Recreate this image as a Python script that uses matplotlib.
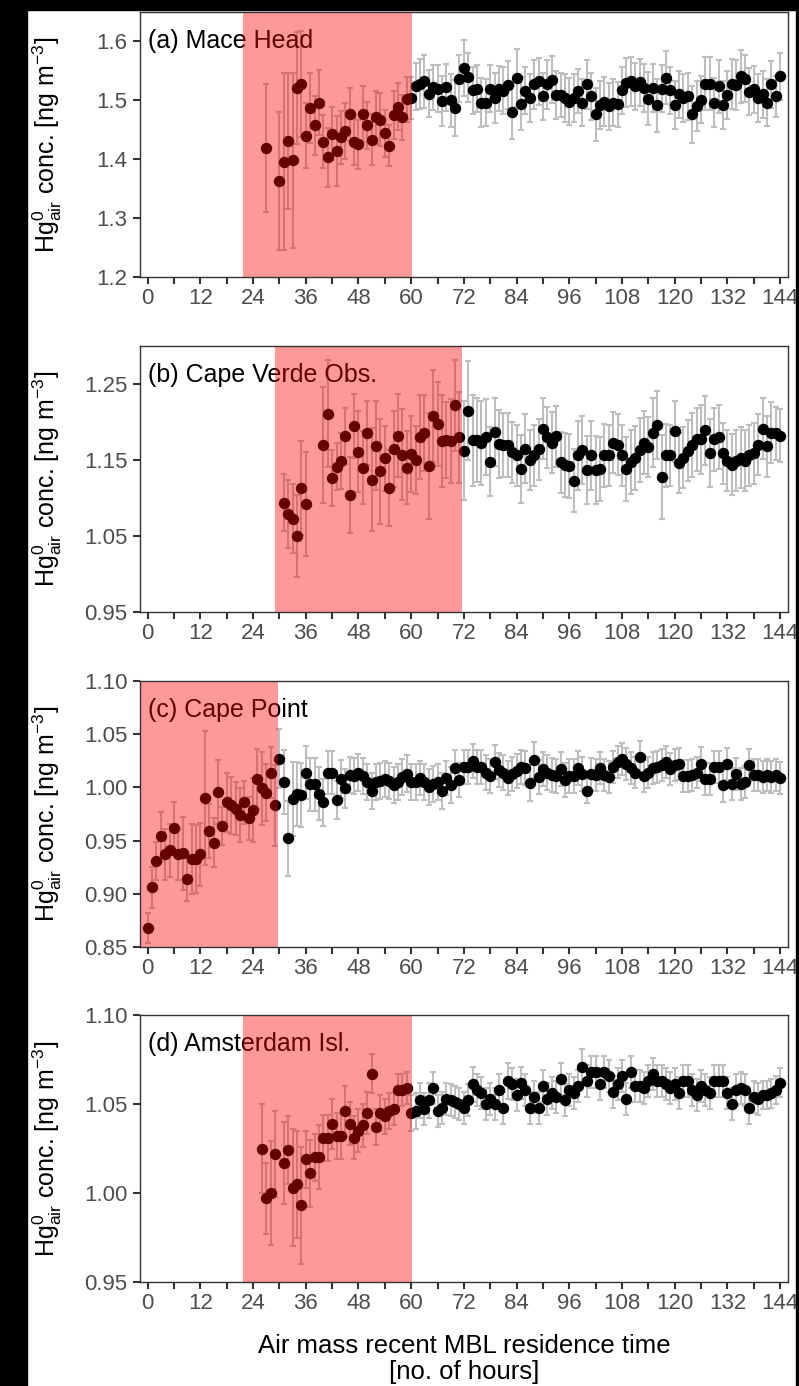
import numpy as np
import matplotlib
matplotlib.use("Agg")
from matplotlib import pyplot as plt
from matplotlib.patches import Rectangle

plt.rcParams['font.family'] = ['Liberation Sans', 'DejaVu Sans']
plt.rcParams['mathtext.fontset'] = 'custom'
plt.rcParams['mathtext.rm'] = 'Liberation Sans'
plt.rcParams['mathtext.it'] = 'Liberation Sans:italic'

# residence time bins [h] for each station
hours_a = [27] + list(range(30, 145))
hours_b = list(range(31, 37)) + list(range(40, 145))
hours_c = list(range(0, 145))
hours_d = list(range(26, 30)) + list(range(31, 145))

# (a) Mace Head, mean Hg0 [ng m-3]
conc_a = [1.419,
          1.363, 1.396, 1.431, 1.398, 1.521, 1.527, 1.440, 1.487, 1.458, 1.496,
          1.430, 1.403, 1.443, 1.414, 1.437, 1.448, 1.476, 1.430, 1.425, 1.477,
          1.458, 1.433, 1.471, 1.467, 1.444, 1.423, 1.475, 1.489, 1.471, 1.502,
          1.504, 1.524, 1.528, 1.532, 1.511, 1.522, 1.520, 1.499, 1.522, 1.500,
          1.487, 1.537, 1.555, 1.539, 1.517, 1.520, 1.496, 1.496, 1.520, 1.504,
          1.520, 1.516, 1.526, 1.480, 1.538, 1.494, 1.516, 1.504, 1.527, 1.532,
          1.507, 1.527, 1.535, 1.509, 1.509, 1.504, 1.498, 1.504, 1.516, 1.496,
          1.527, 1.507, 1.476, 1.492, 1.498, 1.490, 1.496, 1.493, 1.517, 1.530,
          1.532, 1.524, 1.531, 1.521, 1.503, 1.521, 1.492, 1.520, 1.538, 1.517,
          1.492, 1.510, 1.504, 1.507, 1.476, 1.490, 1.501, 1.528, 1.528, 1.496,
          1.524, 1.492, 1.509, 1.528, 1.526, 1.541, 1.537, 1.515, 1.519, 1.504,
          1.510, 1.496, 1.527, 1.507, 1.541]
err_a = [0.108,
         0.118, 0.150, 0.115, 0.148, 0.095, 0.090, 0.055, 0.060, 0.050, 0.055,
         0.045, 0.050, 0.045, 0.060, 0.045, 0.048, 0.045, 0.040, 0.042, 0.047,
         0.040, 0.043, 0.045, 0.045, 0.040, 0.035, 0.040, 0.040, 0.038, 0.038,
         0.035, 0.040, 0.042, 0.045, 0.040, 0.038, 0.040, 0.042, 0.040, 0.045,
         0.048, 0.040, 0.048, 0.042, 0.040, 0.040, 0.042, 0.040, 0.040, 0.042,
         0.038, 0.040, 0.040, 0.045, 0.050, 0.045, 0.040, 0.040, 0.042, 0.040,
         0.040, 0.042, 0.040, 0.040, 0.038, 0.040, 0.040, 0.040, 0.038, 0.040,
         0.042, 0.040, 0.045, 0.040, 0.042, 0.040, 0.040, 0.038, 0.040, 0.042,
         0.042, 0.040, 0.040, 0.040, 0.045, 0.040, 0.045, 0.040, 0.045, 0.040,
         0.040, 0.040, 0.040, 0.040, 0.048, 0.042, 0.040, 0.045, 0.045, 0.042,
         0.045, 0.040, 0.040, 0.042, 0.042, 0.045, 0.040, 0.040, 0.040, 0.040,
         0.040, 0.040, 0.040, 0.035, 0.040]

# (b) Cape Verde Obs.
conc_b = [1.094, 1.079, 1.073, 1.050, 1.113, 1.092,
          1.170, 1.211, 1.126, 1.141, 1.149, 1.182, 1.104, 1.195, 1.161, 1.140,
          1.185, 1.124, 1.169, 1.135, 1.152, 1.113, 1.165, 1.182, 1.157, 1.140,
          1.158, 1.150, 1.180, 1.185, 1.142, 1.208, 1.197, 1.175, 1.176, 1.175,
          1.222, 1.180, 1.162, 1.215, 1.176, 1.176, 1.172, 1.180, 1.148, 1.187,
          1.171, 1.170, 1.170, 1.160, 1.156, 1.138, 1.165, 1.150, 1.156, 1.164,
          1.191, 1.180, 1.173, 1.181, 1.147, 1.143, 1.142, 1.123, 1.156, 1.163,
          1.137, 1.156, 1.137, 1.138, 1.156, 1.156, 1.173, 1.170, 1.156, 1.138,
          1.147, 1.153, 1.163, 1.173, 1.167, 1.186, 1.196, 1.128, 1.156, 1.156,
          1.188, 1.146, 1.153, 1.162, 1.170, 1.177, 1.177, 1.189, 1.159, 1.177,
          1.180, 1.159, 1.149, 1.144, 1.149, 1.153, 1.149, 1.156, 1.159, 1.170,
          1.191, 1.168, 1.186, 1.185, 1.182]
err_b = [0.038, 0.045, 0.045, 0.054, 0.062, 0.068,
         0.076, 0.070, 0.037, 0.031, 0.037, 0.037, 0.050, 0.042, 0.053, 0.048,
         0.042, 0.068, 0.058, 0.069, 0.043, 0.050, 0.050, 0.055, 0.060, 0.048,
         0.050, 0.045, 0.055, 0.050, 0.070, 0.060, 0.055, 0.060, 0.050, 0.055,
         0.060, 0.060, 0.065, 0.065, 0.060, 0.055, 0.055, 0.050, 0.045, 0.045,
         0.045, 0.042, 0.042, 0.040, 0.040, 0.045, 0.045, 0.040, 0.040, 0.040,
         0.040, 0.040, 0.040, 0.040, 0.040, 0.042, 0.042, 0.042, 0.045, 0.045,
         0.045, 0.045, 0.045, 0.042, 0.042, 0.040, 0.040, 0.040, 0.040, 0.042,
         0.042, 0.042, 0.042, 0.042, 0.040, 0.045, 0.045, 0.055, 0.042, 0.040,
         0.040, 0.040, 0.040, 0.040, 0.042, 0.042, 0.045, 0.045, 0.045, 0.042,
         0.042, 0.040, 0.040, 0.040, 0.040, 0.040, 0.040, 0.040, 0.040, 0.040,
         0.040, 0.040, 0.040, 0.035, 0.035]

# (c) Cape Point
conc_c = [0.868, 0.906, 0.931, 0.954, 0.937, 0.941, 0.962, 0.937, 0.938, 0.914,
          0.933, 0.933, 0.937, 0.990, 0.959, 0.948, 0.996, 0.964, 0.986, 0.983,
          0.980, 0.974, 0.986, 0.971, 0.979, 1.008, 0.999, 0.995, 1.014, 0.983,
          1.027, 1.005, 0.952, 0.989, 0.994, 0.993, 1.014, 1.003, 1.003, 0.994,
          0.986, 1.014, 1.014, 0.988, 1.008, 0.999, 1.012, 1.011, 1.014, 1.011,
          1.005, 0.997, 1.005, 1.006, 1.008, 1.006, 1.002, 1.005, 1.010, 1.013,
          1.005, 1.005, 1.009, 1.005, 1.000, 1.003, 1.005, 0.997, 1.009, 1.002,
          1.018, 1.007, 1.019, 1.019, 1.025, 1.019, 1.019, 1.014, 1.011, 1.024,
          1.016, 1.014, 1.009, 1.013, 1.015, 1.019, 1.018, 1.004, 1.026, 1.010,
          1.017, 1.014, 1.012, 1.011, 1.017, 1.007, 1.011, 1.011, 1.018, 1.013,
          0.997, 1.013, 1.012, 1.018, 1.012, 1.010, 1.019, 1.024, 1.027, 1.022,
          1.018, 1.014, 1.029, 1.011, 1.014, 1.018, 1.019, 1.021, 1.024, 1.017,
          1.021, 1.022, 1.011, 1.011, 1.012, 1.014, 1.022, 1.008, 1.008, 1.019,
          1.019, 1.002, 1.022, 1.003, 1.013, 1.003, 1.005, 1.021, 1.012, 1.012,
          1.010, 1.012, 1.010, 1.012, 1.009]
err_c = [0.014, 0.019, 0.018, 0.023, 0.024, 0.025, 0.024, 0.024, 0.034, 0.021,
         0.033, 0.032, 0.030, 0.063, 0.025, 0.023, 0.030, 0.018, 0.028, 0.027,
         0.025, 0.025, 0.020, 0.020, 0.030, 0.028, 0.034, 0.027, 0.024, 0.038,
         0.028, 0.030, 0.035, 0.035, 0.030, 0.030, 0.025, 0.025, 0.025, 0.025,
         0.022, 0.020, 0.020, 0.018, 0.018, 0.018, 0.017, 0.017, 0.017, 0.017,
         0.017, 0.017, 0.017, 0.017, 0.017, 0.017, 0.017, 0.017, 0.017, 0.017,
         0.017, 0.017, 0.016, 0.017, 0.017, 0.017, 0.017, 0.017, 0.016, 0.017,
         0.017, 0.016, 0.016, 0.016, 0.016, 0.016, 0.016, 0.016, 0.016, 0.016,
         0.016, 0.016, 0.016, 0.016, 0.016, 0.016, 0.016, 0.017, 0.017, 0.016,
         0.016, 0.016, 0.016, 0.016, 0.016, 0.016, 0.016, 0.016, 0.016, 0.016,
         0.012, 0.015, 0.015, 0.015, 0.015, 0.015, 0.015, 0.015, 0.015, 0.015,
         0.015, 0.015, 0.015, 0.015, 0.015, 0.015, 0.015, 0.015, 0.015, 0.015,
         0.015, 0.015, 0.015, 0.015, 0.015, 0.015, 0.016, 0.015, 0.015, 0.015,
         0.015, 0.016, 0.015, 0.015, 0.015, 0.015, 0.015, 0.015, 0.015, 0.015,
         0.015, 0.015, 0.015, 0.015, 0.015]

# (d) Amsterdam Isl.
conc_d = [1.025, 0.997, 1.000, 1.022,
          1.017, 1.024, 1.003, 1.005, 0.993, 1.019, 1.011, 1.020, 1.020,
          1.031, 1.031, 1.039, 1.032, 1.032, 1.046, 1.039, 1.031, 1.035, 1.038,
          1.045, 1.067, 1.037, 1.045, 1.043, 1.046, 1.047, 1.058, 1.058, 1.059,
          1.045, 1.046, 1.052, 1.047, 1.052, 1.059, 1.046, 1.048, 1.053, 1.052,
          1.051, 1.050, 1.048, 1.052, 1.061, 1.058, 1.056, 1.050, 1.053, 1.050,
          1.058, 1.048, 1.063, 1.061, 1.055, 1.062, 1.058, 1.048, 1.054, 1.048,
          1.060, 1.053, 1.056, 1.054, 1.064, 1.052, 1.058, 1.056, 1.060, 1.071,
          1.063, 1.068, 1.068, 1.061, 1.068, 1.066, 1.057, 1.061, 1.066, 1.053,
          1.068, 1.060, 1.060, 1.059, 1.063, 1.067, 1.063, 1.063, 1.061, 1.059,
          1.061, 1.056, 1.063, 1.063, 1.058, 1.055, 1.060, 1.058, 1.056, 1.063,
          1.063, 1.063, 1.056, 1.050, 1.058, 1.059, 1.058, 1.048, 1.054, 1.053,
          1.055, 1.055, 1.056, 1.058, 1.062]
err_d = [0.025, 0.020, 0.029, 0.024,
         0.023, 0.019, 0.033, 0.030, 0.033, 0.016, 0.019, 0.013, 0.018,
         0.013, 0.013, 0.014, 0.013, 0.013, 0.014, 0.012, 0.012, 0.012, 0.012,
         0.012, 0.011, 0.010, 0.010, 0.010, 0.010, 0.009, 0.009, 0.009, 0.009,
         0.010, 0.010, 0.010, 0.009, 0.010, 0.009, 0.009, 0.009, 0.009, 0.009,
         0.009, 0.009, 0.009, 0.009, 0.010, 0.009, 0.009, 0.009, 0.009, 0.009,
         0.009, 0.009, 0.010, 0.009, 0.009, 0.009, 0.009, 0.009, 0.009, 0.009,
         0.009, 0.009, 0.009, 0.009, 0.009, 0.009, 0.009, 0.009, 0.009, 0.010,
         0.009, 0.009, 0.009, 0.009, 0.009, 0.009, 0.009, 0.009, 0.009, 0.009,
         0.009, 0.009, 0.009, 0.009, 0.009, 0.009, 0.009, 0.009, 0.009, 0.009,
         0.009, 0.009, 0.009, 0.009, 0.009, 0.009, 0.009, 0.009, 0.009, 0.009,
         0.009, 0.009, 0.009, 0.009, 0.009, 0.009, 0.009, 0.009, 0.009, 0.009,
         0.008, 0.008, 0.008, 0.008, 0.008]

titles = ['(a) Mace Head', '(b) Cape Verde Obs.', '(c) Cape Point', '(d) Amsterdam Isl.']
ylims = [(1.2, 1.65), (0.95, 1.30), (0.85, 1.10), (0.95, 1.10)]
yticks = [[1.2, 1.3, 1.4, 1.5, 1.6],
          [0.95, 1.05, 1.15, 1.25],
          [0.85, 0.90, 0.95, 1.00, 1.05, 1.10],
          [0.95, 1.00, 1.05, 1.10]]
ytick_fmt = ['%.1f', '%.2f', '%.2f', '%.2f']
# shaded window of short MBL residence (start, end) [h]
shade = [(21.7, 60.2), (29.0, 71.5), (-5.0, 29.6), (21.7, 60.2)]

hours = [hours_a, hours_b, hours_c, hours_d]
concs = [conc_a, conc_b, conc_c, conc_d]
errs = [err_a, err_b, err_c, err_d]

W, H = 799, 1386
fig = plt.figure(figsize=(W / 100, H / 100), dpi=100)
fig.patch.set_facecolor('white')

# panel extents in pixels: (top, bottom)
panel_px = [(12, 277), (346, 612), (681, 947), (1015, 1282)]
left_px, right_px = 140, 788

for i in range(4):
    top, bot = panel_px[i]
    ax = fig.add_axes([left_px / W, 1 - bot / H, (right_px - left_px) / W, (bot - top) / H])
    ax.errorbar(hours[i], concs[i], yerr=errs[i], fmt='o', color='black',
                ecolor='#BEBEBE', elinewidth=1.5, capsize=2.0, capthick=1.5,
                ms=7.2, mec='black', zorder=3)
    ax.text(0.012, 0.89, titles[i], transform=ax.transAxes, fontsize=18,
            ha='left', va='center', zorder=4)
    ax.axvspan(shade[i][0], shade[i][1], color='red', alpha=0.4, lw=0, zorder=6)

    ax.set_xlim(-1.75, 145.8)
    ax.set_ylim(*ylims[i])
    ax.set_xticks(range(0, 145, 6))
    ax.set_xticklabels([str(t) if t % 12 == 0 else '' for t in range(0, 145, 6)])
    ax.set_yticks(yticks[i])
    ax.set_yticklabels([ytick_fmt[i] % v for v in yticks[i]])
    ax.tick_params(axis='both', direction='out', length=5, width=1.5,
                   color='#333333', labelcolor='#4D4D4D', labelsize=16)
    ax.tick_params(axis='x', pad=3)
    ax.tick_params(axis='y', pad=4)
    for sp in ax.spines.values():
        sp.set_color('#333333')
        sp.set_linewidth(1.0)
        sp.set_zorder(7)

    fig.text(47 / W, 1 - (top + bot) / 2 / H,
             r'Hg$^{0}_{\mathrm{air}}$ conc. [ng m$^{-3}$]',
             rotation=90, ha='center', va='center', fontsize=18)

fig.text((left_px + right_px) / 2 / W, 1 - 1359 / H,
         'Air mass recent MBL residence time\n[no. of hours]',
         ha='center', va='center', fontsize=18.5, linespacing=1.1)

# dark frame strips along the edges
fig.patches.append(Rectangle((0, 0), 27 / W, 1, transform=fig.transFigure,
                             color='black', zorder=10))
fig.patches.append(Rectangle((0, 1 - 10 / H), 1, 10 / H, transform=fig.transFigure,
                             color='black', zorder=10))
fig.patches.append(Rectangle((1 - 3 / W, 0), 3 / W, 1, transform=fig.transFigure,
                             color='black', zorder=10))

fig.savefig('out.png', dpi=100)
